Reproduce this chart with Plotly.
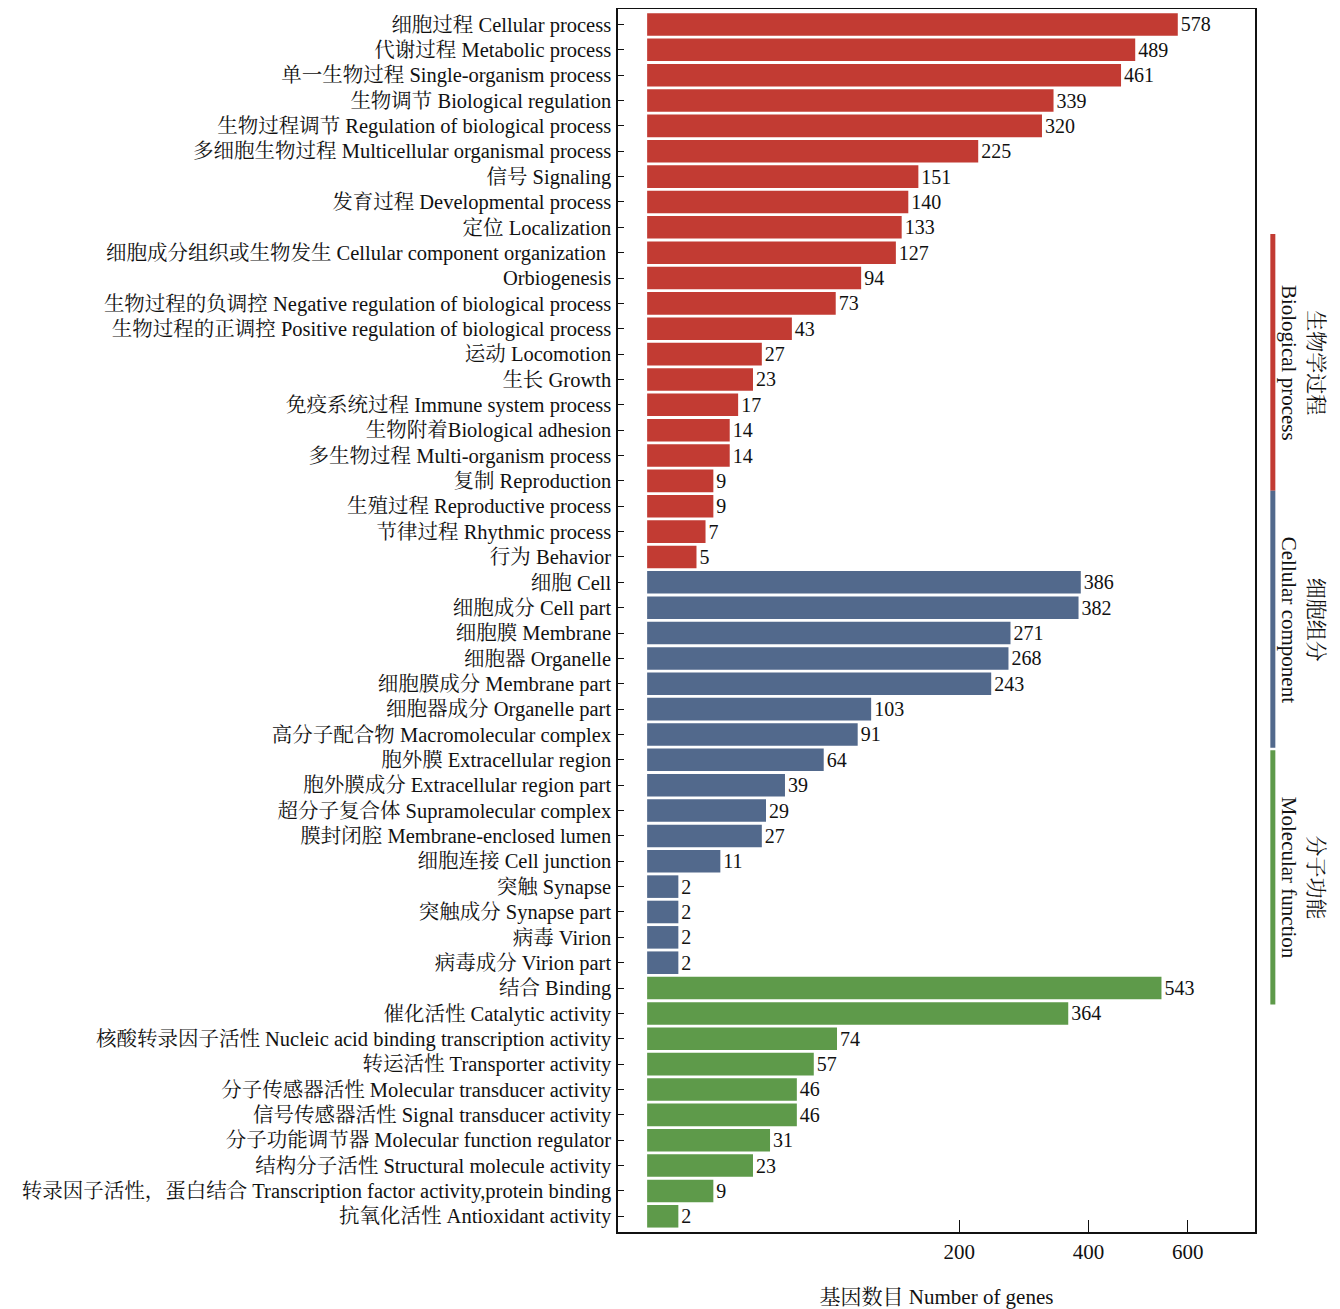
import numpy as np
import plotly.graph_objects as go

bp_labels = [
    "细胞过程 Cellular process", "代谢过程 Metabolic process", "单一生物过程 Single-organism process",
    "生物调节 Biological regulation", "生物过程调节 Regulation of biological process",
    "多细胞生物过程 Multicellular organismal process", "信号 Signaling", "发育过程 Developmental process",
    "定位 Localization", "细胞成分组织或生物发生 Cellular component organization ", "Orbiogenesis",
    "生物过程的负调控 Negative regulation of biological process",
    "生物过程的正调控 Positive regulation of biological process", "运动 Locomotion", "生长 Growth",
    "免疫系统过程 Immune system process", "生物附着Biological adhesion", "多生物过程 Multi-organism process",
    "复制 Reproduction", "生殖过程 Reproductive process", "节律过程 Rhythmic process", "行为 Behavior",
]
bp_values = [578, 489, 461, 339, 320, 225, 151, 140, 133, 127, 94, 73, 43, 27, 23, 17, 14, 14, 9, 9, 7, 5]

cc_labels = [
    "细胞 Cell", "细胞成分 Cell part", "细胞膜 Membrane", "细胞器 Organelle", "细胞膜成分 Membrane part",
    "细胞器成分 Organelle part", "高分子配合物 Macromolecular complex", "胞外膜 Extracellular region",
    "胞外膜成分 Extracellular region part", "超分子复合体 Supramolecular complex",
    "膜封闭腔 Membrane-enclosed lumen", "细胞连接 Cell junction", "突触 Synapse", "突触成分 Synapse part",
    "病毒 Virion", "病毒成分 Virion part",
]
cc_values = [386, 382, 271, 268, 243, 103, 91, 64, 39, 29, 27, 11, 2, 2, 2, 2]

mf_labels = [
    "结合 Binding", "催化活性 Catalytic activity", "核酸转录因子活性 Nucleic acid binding transcription activity",
    "转运活性 Transporter activity", "分子传感器活性 Molecular transducer activity",
    "信号传感器活性 Signal transducer activity", "分子功能调节器 Molecular function regulator",
    "结构分子活性 Structural molecule activity",
    "转录因子活性，蛋白结合 Transcription factor activity,protein binding", "抗氧化活性 Antioxidant activity",
]
mf_values = [543, 364, 74, 57, 46, 46, 31, 23, 9, 2]

group_names = ["生物学过程<br>Biological process", "细胞组分<br>Cellular component", "分子功能<br>Molecular function"]
group_colors = ["#C23B33", "#52698C", "#5E9A4A"]
tick_values = [200, 400, 600]

FONT = "Liberation Serif, Times New Roman, Noto Serif CJK SC, Noto Sans CJK SC, serif"

all_labels = bp_labels + cc_labels + mf_labels
fig = go.Figure()
for labels, values, color in zip([bp_labels, cc_labels, mf_labels], [bp_values, cc_values, mf_values], group_colors):
    v = np.array(values, dtype=float)
    fig.add_trace(go.Bar(
        y=labels, x=np.sqrt(v), orientation="h",
        marker=dict(color=color, line=dict(width=0)),
        text=[str(x) for x in values], textposition="outside",
        textfont=dict(family=FONT, size=20, color="#111"),
        cliponaxis=False, showlegend=False,
    ))

n = len(all_labels)
fig.update_layout(
    width=1332, height=1301,
    margin=dict(l=610, r=85, t=1, b=77),
    plot_bgcolor="white", paper_bgcolor="white",
    bargap=0.11,
    font=dict(family=FONT, size=21, color="#111"),
    xaxis=dict(
        range=[-1.32, 27.54], tickvals=list(np.sqrt(tick_values)), ticktext=[str(t) for t in tick_values],
        ticks="inside", ticklen=12, tickcolor="#111", showgrid=False, zeroline=False,
        showline=True, linecolor="#111", linewidth=1.5, mirror=True, automargin=False,
        tickfont=dict(size=21),
        title=dict(text="基因数目 Number of genes", font=dict(size=21), standoff=26),
    ),
    yaxis=dict(
        categoryorder="array", categoryarray=all_labels, range=[n - 1 + 0.62, -0.61],
        ticks="inside", ticklen=6, tickcolor="#111", showgrid=False, zeroline=False,
        showline=True, linecolor="#111", linewidth=1.5, mirror=True, automargin=False,
        tickfont=dict(size=20.5), ticklabelstandoff=1,
    ),
)

# decorative group bars on the right (paper coordinates)
seg = [(0.816, 0.606), (0.606, 0.396), (0.394, 0.186)]
for name, color, (ytop, ybot) in zip(group_names, group_colors, seg):
    fig.add_shape(type="line", xref="paper", yref="paper", x0=1.028, x1=1.028, y0=ybot, y1=ytop,
                  line=dict(color=color, width=5))
    fig.add_annotation(xref="paper", yref="paper", x=1.0746, y=(ytop + ybot) / 2, text=name, showarrow=False,
                       textangle=90, font=dict(size=21, family=FONT, color="#111"),
                       xanchor="center", yanchor="middle")

fig.write_html("out.html")
